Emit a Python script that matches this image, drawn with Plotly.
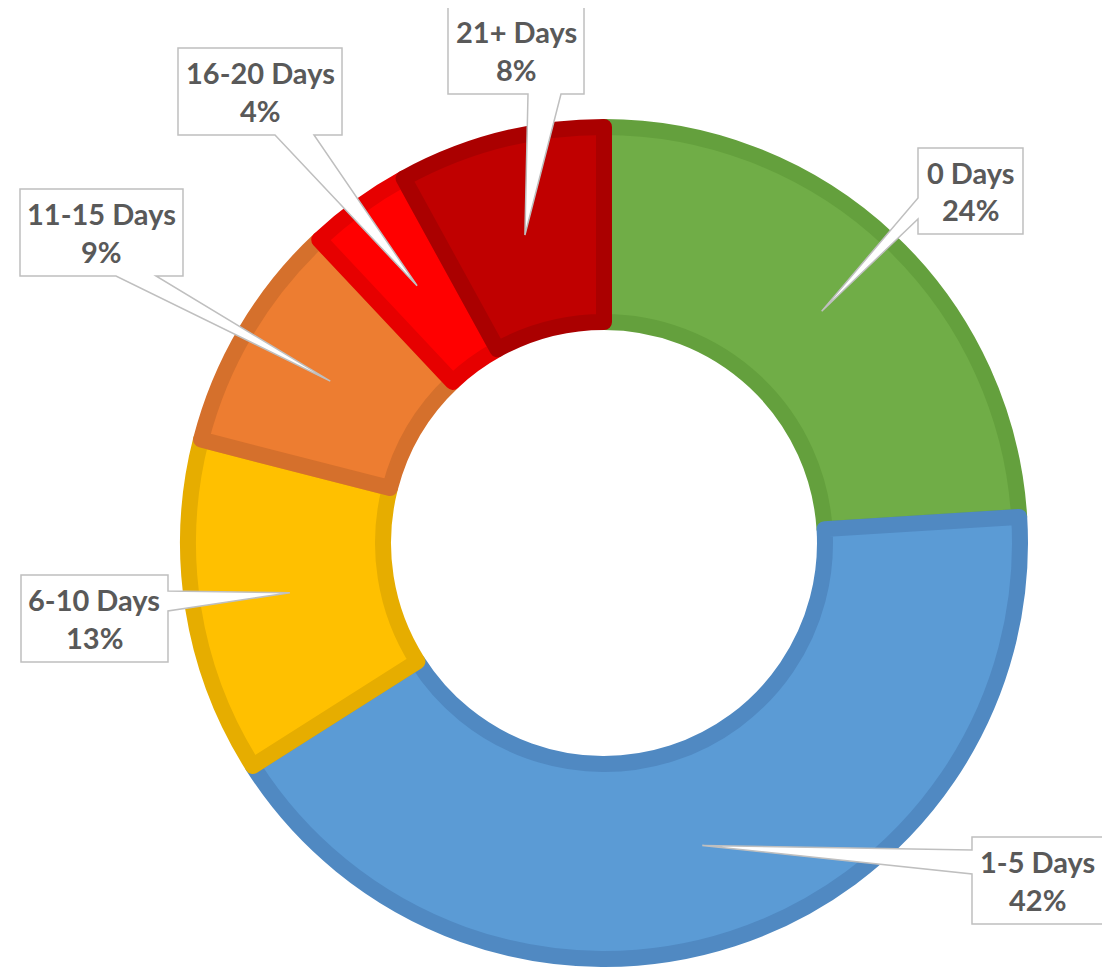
import math
import plotly.graph_objects as go

# ---- data ----
categories = ["0 Days", "1-5 Days", "6-10 Days", "11-15 Days", "16-20 Days", "21+ Days"]
values = [24, 42, 13, 9, 4, 8]
fill_colors = ["#70AD47", "#5B9BD5", "#FFC000", "#ED7D31", "#FF0000", "#C00000"]
edge_colors = ["#64A03D", "#5089C2", "#E6AD00", "#D5702C", "#E60000", "#AA0000"]

# ---- layout (target page pixels) ----
OFF = 8                    # page body margin
W, H = 1110 - OFF, 967 - OFF
CX, CY = 604, 543          # pie centre
LINE_W = 16
R_PATH = 424 - LINE_W / 2  # outer path radius
HOLE = (213 + LINE_W / 2) / R_PATH
R_MID = 318                # callout tip radius (middle of ring)
LINE_GAP = 38              # label line spacing

# callout boxes: x0, y0, x1, y1, side, base start, base end
callouts = {
    "0 Days":     (918, 148, 1023, 234, "left", 198, 219),
    "1-5 Days":   (972, 837, 1103, 924, "left", 850, 874),
    "6-10 Days":  (21, 575, 168, 662, "right", 591, 611),
    "11-15 Days": (20, 189, 183, 276, "bottom", 116, 156),
    "16-20 Days": (178, 48, 342, 135, "bottom", 275, 314),
    "21+ Days":   (448, 7, 584, 94, "bottom", 528, 561),
}


def px(x):
    return (x - OFF) / W


def py(y):
    return 1 - (y - OFF) / H


fig = go.Figure()
fig.add_trace(go.Pie(
    labels=categories,
    values=values,
    sort=False,
    direction="clockwise",
    rotation=0,
    hole=HOLE,
    marker=dict(colors=fill_colors, line=dict(color=edge_colors, width=LINE_W)),
    textinfo="none",
    hoverinfo="label+percent",
    showlegend=False,
    domain=dict(x=[px(CX - R_PATH), px(CX + R_PATH)],
                y=[py(CY + R_PATH), py(CY - R_PATH)]),
))

font = dict(family="Lato, 'Open Sans', sans-serif", size=29, color="#595959")
total = sum(values)
cum = 0
shapes = []
annotations = []
for cat, v in zip(categories, values):
    mid = (cum + v / 2) / total * 2 * math.pi
    cum += v
    tx = CX + R_MID * math.sin(mid)
    ty = CY - R_MID * math.cos(mid)
    x0, y0, x1, y1, side, a, b = callouts[cat]
    pts = [(x0, y0), (x1, y0)]
    if side == "right":
        pts += [(x1, a), (tx, ty), (x1, b)]
    pts += [(x1, y1)]
    if side == "bottom":
        pts += [(b, y1), (tx, ty), (a, y1)]
    pts += [(x0, y1)]
    if side == "left":
        pts += [(x0, b), (tx, ty), (x0, a)]
    path = "M " + " L ".join(f"{px(x):.5f},{py(y):.5f}" for x, y in pts) + " Z"
    shapes.append(dict(type="path", path=path, xref="paper", yref="paper",
                       fillcolor="white", line=dict(color="#BFBFBF", width=1.5),
                       layer="above"))
    pct = round(v / total * 100)
    xc, yc = (x0 + x1) / 2, (y0 + y1) / 2
    for txt, dy in ((cat, -LINE_GAP / 2), (f"{pct}%", LINE_GAP / 2)):
        annotations.append(dict(
            x=px(xc), y=py(yc + dy), xref="paper", yref="paper",
            xanchor="center", yanchor="middle", showarrow=False,
            text=f"<b>{txt}</b>", font=font,
        ))

fig.update_layout(
    width=W, height=H,
    margin=dict(l=0, r=0, t=0, b=0),
    paper_bgcolor="white",
    plot_bgcolor="white",
    shapes=shapes,
    annotations=annotations,
)

fig.write_html("out.html")
